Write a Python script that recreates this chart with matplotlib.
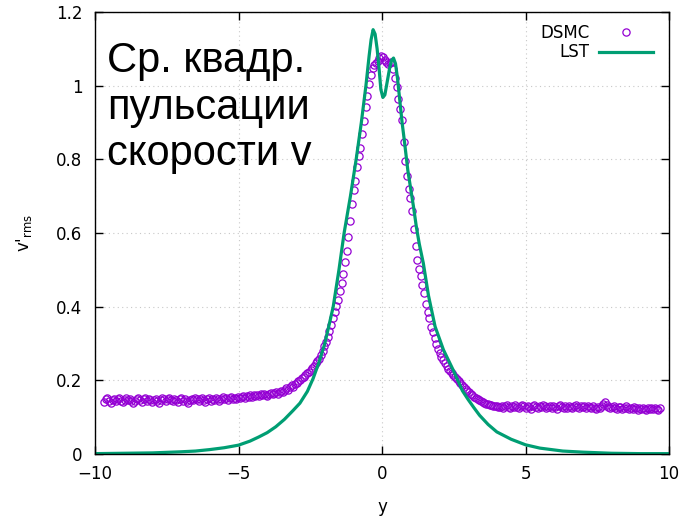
"""Mean-square velocity pulsations v'_rms across the layer: DSMC vs LST."""

import numpy as np
import matplotlib

matplotlib.use("Agg")
import matplotlib.pyplot as plt

# DSMC samples on a uniform grid, y = -9.69 ... 9.69 with step 0.06
dsmc_y_min, dsmc_y_max, dsmc_n = -9.69, 9.69, 324
dsmc_left = [
    # far left plateau
    0.142, 0.148, 0.151, 0.144, 0.139, 0.146, 0.150, 0.143, 0.148, 0.152,
    0.145, 0.140, 0.147, 0.151, 0.146, 0.149, 0.143, 0.138, 0.145, 0.150,
    0.153, 0.147, 0.142, 0.148, 0.151, 0.144, 0.149, 0.146, 0.141, 0.147,
    0.150, 0.145, 0.139, 0.146, 0.152, 0.148, 0.143, 0.149, 0.153, 0.147,
    0.144, 0.150, 0.146, 0.141, 0.148, 0.151, 0.145, 0.149, 0.143, 0.138,
    0.146, 0.150, 0.147, 0.152, 0.148, 0.144, 0.149, 0.153, 0.146, 0.142,
    0.148, 0.151, 0.145, 0.150, 0.147, 0.153, 0.149, 0.144, 0.150, 0.154,
    0.148, 0.151, 0.146, 0.152, 0.155, 0.149, 0.153, 0.150, 0.156,
    # slow rise
    0.151, 0.155, 0.158, 0.153, 0.157, 0.154, 0.159, 0.156, 0.160, 0.157,
    0.161, 0.158, 0.162, 0.160, 0.164, 0.161, 0.158, 0.163, 0.166, 0.162,
    0.165, 0.168, 0.164, 0.169, 0.171,
    0.168, 0.174, 0.178, 0.175, 0.181, 0.186, 0.183, 0.190, 0.194, 0.197,
    0.201, 0.206,
    0.210, 0.214, 0.219, 0.223, 0.229, 0.234, 0.240, 0.246, 0.252, 0.259,
    # core
    0.268, 0.280, 0.292, 0.303, 0.318, 0.335, 0.350, 0.368, 0.386, 0.402,
    0.418, 0.442, 0.465, 0.490, 0.520, 0.552, 0.590,
    0.632, 0.680, 0.718, 0.742, 0.778, 0.808, 0.832, 0.868, 0.905, 0.942,
    0.972, 1.005, 1.030, 1.048, 1.056, 1.062, 1.068, 1.074, 1.080,
]
dsmc_right = [
    # core
    1.078, 1.070, 1.064, 1.060, 1.061, 1.063, 1.046, 1.022, 0.996, 0.964,
    0.936, 0.906, 0.846, 0.795, 0.756, 0.720, 0.694, 0.660,
    0.612, 0.566, 0.526, 0.501, 0.484, 0.460, 0.436, 0.406, 0.386, 0.368,
    0.346, 0.331, 0.314, 0.300, 0.286, 0.275, 0.262, 0.254, 0.246, 0.238,
    0.231, 0.225, 0.219, 0.214, 0.209, 0.203,
    0.198, 0.192, 0.188, 0.183, 0.177, 0.172, 0.167, 0.163, 0.159, 0.155,
    0.151, 0.149, 0.146, 0.144, 0.141, 0.139, 0.137, 0.135, 0.134, 0.132,
    0.131, 0.130, 0.129, 0.128,
    # right plateau
    0.127, 0.131, 0.125, 0.129, 0.133, 0.128, 0.124, 0.130, 0.127, 0.132,
    0.128, 0.125, 0.130, 0.134, 0.129, 0.126, 0.131, 0.127, 0.123, 0.129,
    0.132, 0.128, 0.125, 0.130, 0.127, 0.133, 0.129, 0.124, 0.128, 0.131,
    0.126, 0.130, 0.127, 0.123, 0.129, 0.132, 0.128, 0.125, 0.130, 0.126,
    0.131, 0.127, 0.124, 0.129, 0.133, 0.128, 0.125, 0.130, 0.127, 0.129,
    0.126, 0.131, 0.127, 0.124, 0.129, 0.126, 0.122, 0.128, 0.125, 0.131,
    0.136, 0.140, 0.133, 0.127, 0.124, 0.127, 0.130, 0.125, 0.122, 0.127,
    0.128, 0.123, 0.126, 0.129, 0.124, 0.121, 0.126, 0.123, 0.127, 0.124,
    0.120, 0.125, 0.122, 0.126, 0.123, 0.119, 0.124, 0.121, 0.125, 0.122,
    0.126, 0.123, 0.120, 0.124,
]

# LST profile
lst_y = [
    -10.0, -9.0, -8.0, -7.0, -6.5, -6.0, -5.5, -5.0, -4.6, -4.3, -4.0,
    -3.7, -3.4, -3.1, -2.86, -2.6, -2.4, -2.2, -2.0, -1.85, -1.7, -1.5,
    -1.32, -1.1, -0.9, -0.72, -0.56, -0.45, -0.38, -0.31, -0.24, -0.17,
    -0.1, -0.04, 0.03, 0.1, 0.18, 0.26, 0.33, 0.4, 0.47, 0.54, 0.6, 0.7,
    0.78, 0.9, 1.0, 1.1, 1.2, 1.3, 1.44, 1.62, 1.85, 2.14, 2.48, 2.8,
    3.0, 3.2, 3.4, 3.7, 4.0, 4.5, 5.0, 5.5, 6.3, 7.0, 8.0, 9.0, 10.0,
]
lst_v = [
    0.001, 0.002, 0.003, 0.006, 0.008, 0.012, 0.017, 0.024, 0.035, 0.046,
    0.058, 0.074, 0.094, 0.118, 0.138, 0.170, 0.205, 0.248, 0.298, 0.348,
    0.400, 0.500, 0.600, 0.700, 0.800, 0.900, 1.000, 1.080, 1.125, 1.152,
    1.140, 1.100, 1.045, 0.990, 0.968, 0.975, 1.010, 1.045, 1.068, 1.075,
    1.060, 1.020, 0.975, 0.900, 0.850, 0.770, 0.720, 0.670, 0.615, 0.570,
    0.518, 0.430, 0.346, 0.283, 0.228, 0.172, 0.148, 0.126, 0.105, 0.080,
    0.060, 0.040, 0.025, 0.016, 0.008, 0.005, 0.002, 0.001, 0.001,
]

title_text = "Ср. квадр.\nпульсации\nскорости v"

dsmc_color = "#9400d3"
lst_color = "#009e73"

fig = plt.figure(figsize=(6.81, 5.20), dpi=100)
ax = fig.add_axes([95 / 681, 66 / 520, 574 / 681, 442 / 520])

dsmc_x = np.linspace(dsmc_y_min, dsmc_y_max, dsmc_n)
ax.plot(dsmc_x, dsmc_left + dsmc_right, ls="none", marker="o", ms=5.2,
        mfc="none", mec=dsmc_color, mew=0.9, label="DSMC")
ax.plot(lst_y, lst_v, color=lst_color, lw=2.3, label="LST")

ax.set_xlim(-10, 10)
ax.set_ylim(0, 1.2)
ax.set_xticks([-10, -5, 0, 5, 10])
ax.set_yticks([0, 0.2, 0.4, 0.6, 0.8, 1.0, 1.2])
ax.set_yticklabels(["0", "0.2", "0.4", "0.6", "0.8", "1", "1.2"])
ax.tick_params(direction="in", length=6, width=1, top=True, right=True,
               labelsize=12)
ax.tick_params(axis="y", pad=9)
ax.tick_params(axis="x", pad=8)
ax.grid(True, color="#c8c8c8", lw=0.8, ls=(0, (1, 3)))
for s in ax.spines.values():
    s.set_linewidth(1)

ax.set_xlabel("y", fontsize=12, labelpad=11)
ax.set_ylabel(r"v'$_{\rm rms}$", fontsize=12, labelpad=16)

ax.text(0.021, 0.935, title_text, transform=ax.transAxes, ha="left", va="top",
        fontsize=30, family="Liberation Sans", linespacing=1.22)

ax.legend(loc="upper right", frameon=False, markerfirst=False, fontsize=12,
          handlelength=3.2, handletextpad=0.6, borderaxespad=0.3,
          labelspacing=0.1, bbox_to_anchor=(0.992, 1.0))

fig.savefig("out.png", dpi=100)
